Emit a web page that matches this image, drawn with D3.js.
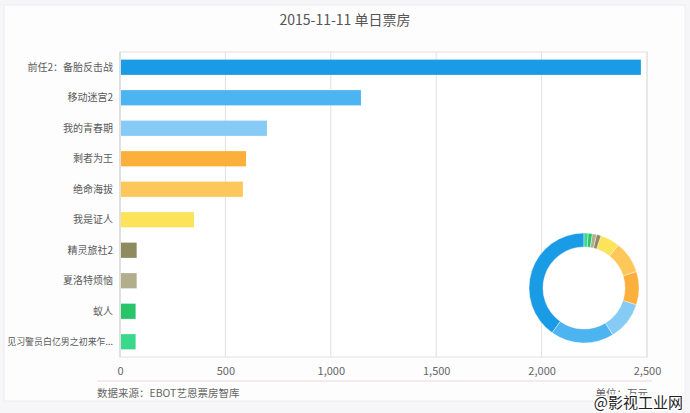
<!DOCTYPE html>
<html>
<head>
<meta charset="utf-8">
<script src="https://cdnjs.cloudflare.com/ajax/libs/d3/7.8.5/d3.min.js"></script>
<style>
  body { margin: 0; background: #f6f6f8; }
  svg { display: block; font-family: "Noto Sans CJK SC", "Noto Sans", sans-serif; }
</style>
</head>
<body>
<svg id="chart" width="690" height="413"></svg>
<script>
var films = ['前任2：备胎反击战', '移动迷宫2', '我的青春期', '剩者为王', '绝命海拔',
             '我是证人', '精灵旅社2', '夏洛特烦恼', '蚁人', '见习警员白亿男之初来乍...'];
var boxOffice = [2471, 1143, 697, 598, 583, 351, 79, 79, 74, 74];
var barColors = ['#1a9be6', '#4cb4f0', '#85cbf5', '#fbb03b', '#fdc75a',
                 '#fde35a', '#8f8b5f', '#b1ad8d', '#27c46a', '#3ad88a'];
var xTicks = [0, 500, 1000, 1500, 2000, 2500];

var svg = d3.select('#chart');

// card
svg.append('rect')
  .attr('x', 4).attr('y', 5).attr('width', 681).attr('height', 396)
  .attr('fill', '#fdfdfe').attr('stroke', '#ececef');

svg.append('text')
  .attr('x', 345).attr('y', 25)
  .attr('text-anchor', 'middle')
  .attr('font-size', 14).attr('fill', '#555')
  .text('2015-11-11 单日票房');

// plot box (don't use "top", it's window.top)
var pLeft = 120, pRight = 647, pTop = 52, pBottom = 357;

var x = d3.scaleLinear().domain([0, 2500]).range([pLeft, pRight]);
var y = d3.scaleBand().domain(films).range([pTop, pBottom]).paddingInner(0.5).paddingOuter(0.25);

// plot frame + gridlines
svg.append('rect')
  .attr('x', pLeft).attr('y', pTop).attr('width', pRight - pLeft).attr('height', pBottom - pTop)
  .attr('fill', '#fff').attr('stroke', '#e2e2e2');

svg.append('g')
  .selectAll('line')
  .data(xTicks)
  .enter().append('line')
  .attr('x1', function(d) { return x(d); })
  .attr('x2', function(d) { return x(d); })
  .attr('y1', pTop).attr('y2', pBottom)
  .attr('stroke', function(d) { return d === 0 ? '#cfcfcf' : '#e0e0e0'; });

// bars
svg.append('g')
  .selectAll('rect')
  .data(boxOffice)
  .enter().append('rect')
  .attr('x', x(0) + 1)
  .attr('y', function(d, i) { return y(films[i]); })
  .attr('width', function(d) { return x(d) - x(0) - 1; })
  .attr('height', y.bandwidth())
  .attr('fill', function(d, i) { return barColors[i]; });

// category labels
svg.append('g')
  .selectAll('text')
  .data(films)
  .enter().append('text')
  .attr('x', pLeft - 7)
  .attr('y', function(d) { return y(d) + y.bandwidth() / 2; })
  .attr('dy', '0.35em')
  .attr('text-anchor', 'end')
  .attr('font-size', 10).attr('fill', '#5a5a5a')
  .text(function(d) { return d; })
  .each(function() {
    // shrink the long one so it stays inside the card
    var w = this.getComputedTextLength();
    if (w > 106) d3.select(this).attr('font-size', 10 * 106 / w);
  });

// x axis
var xAxis = d3.axisBottom(x).tickValues(xTicks).tickSize(0).tickPadding(10).tickFormat(d3.format(','));
var gx = svg.append('g').attr('transform', 'translate(0,' + pBottom + ')').call(xAxis);
gx.select('.domain').remove();
gx.selectAll('text').attr('font-size', 11).attr('fill', '#666')
  .attr('font-family', '"Noto Sans CJK SC", "Noto Sans", sans-serif');

svg.append('line')
  .attr('x1', 97).attr('x2', 652).attr('y1', 381).attr('y2', 381)
  .attr('stroke', '#ecd6dc');

svg.append('text')
  .attr('x', 97).attr('y', 397)
  .attr('font-size', 10.5).attr('fill', '#666')
  .text('数据来源：EBOT艺恩票房智库');

svg.append('text')
  .attr('x', 648).attr('y', 397)
  .attr('text-anchor', 'end')
  .attr('font-size', 10.5).attr('fill', '#666')
  .text('单位：万元');

// donut
var pie = d3.pie().sort(null).startAngle(0).endAngle(-2 * Math.PI);
var arc = d3.arc().innerRadius(41).outerRadius(55);
svg.append('g')
  .attr('transform', 'translate(584,288)')
  .selectAll('path')
  .data(pie(boxOffice))
  .enter().append('path')
  .attr('d', arc)
  .attr('fill', function(d, i) { return barColors[i]; })
  .attr('stroke', '#fff').attr('stroke-width', 0.4);

// watermark
svg.append('text')
  .attr('x', 683).attr('y', 408)
  .attr('text-anchor', 'end')
  .attr('font-size', 15).attr('fill', '#222')
  .attr('stroke', '#fff').attr('stroke-width', 3).attr('paint-order', 'stroke')
  .text('@影视工业网');
</script>
</body>
</html>
